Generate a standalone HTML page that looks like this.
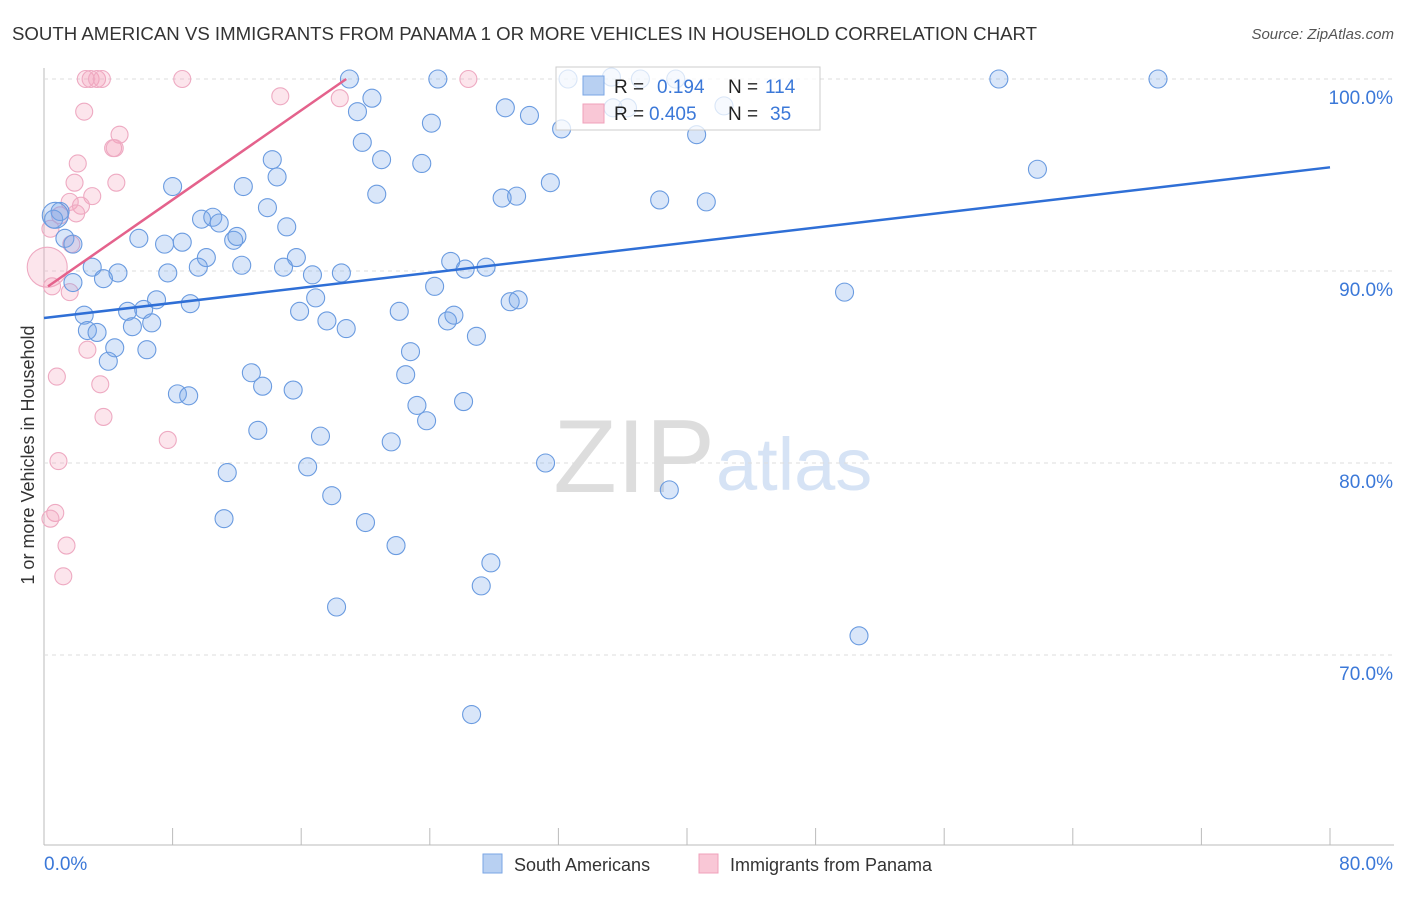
<!DOCTYPE html>
<html><head><meta charset="utf-8"><style>
body{margin:0;background:#fff;font-family:"Liberation Sans",sans-serif;}
svg text{font-family:"Liberation Sans",sans-serif;}
</style></head><body>
<svg id="chart" width="1406" height="892" viewBox="0 0 1406 892">
<text x="12" y="40" font-size="18.5" fill="#333" textLength="1025" lengthAdjust="spacingAndGlyphs">SOUTH AMERICAN VS IMMIGRANTS FROM PANAMA 1 OR MORE VEHICLES IN HOUSEHOLD CORRELATION CHART</text>
<text x="1394" y="39" font-size="15" fill="#555" text-anchor="end" font-style="italic">Source: ZipAtlas.com</text>
<text x="715" y="492" font-size="104" fill="#ddd" text-anchor="end" font-family="Liberation Serif">ZIP</text>
<text x="716" y="490" font-size="74" fill="#d6e3f5">atlas</text>
<text transform="translate(34,455) rotate(-90)" font-size="18" fill="#333" text-anchor="middle">1 or more Vehicles in Household</text>
<g id="grid"></g><g id="pts"></g><g id="lines"></g>
<g>
<rect x="556" y="67" width="264" height="63" fill="rgba(255,255,255,0.75)" stroke="#ccc"/>
<rect x="583" y="76" width="21" height="19" fill="#b8d0f2" stroke="#7aa6e4"/>
<rect x="583" y="104" width="21" height="19" fill="#f9c7d6" stroke="#f0a0bb"/>
<text x="614" y="93" font-size="19" fill="#222">R =</text><text x="657" y="93" font-size="19" fill="#3b78d8">0.194</text>
<text x="728" y="93" font-size="19" fill="#222">N =</text><text x="765" y="93" font-size="19" fill="#3b78d8">114</text>
<text x="614" y="120" font-size="19" fill="#222">R =</text><text x="649" y="120" font-size="19" fill="#3b78d8">0.405</text>
<text x="728" y="120" font-size="19" fill="#222">N =</text><text x="770" y="120" font-size="19" fill="#3b78d8">35</text>
</g>
<g>
<rect x="483" y="854" width="19" height="19" fill="#b8d0f2" stroke="#7aa6e4"/>
<text x="514" y="871" font-size="18" fill="#333">South Americans</text>
<rect x="699" y="854" width="19" height="19" fill="#f9c7d6" stroke="#f0a0bb"/>
<text x="730" y="871" font-size="18" fill="#333">Immigrants from Panama</text>
</g>
</svg>
<script>
const yTicks=[100,90,80,70];
const xTickLabels=["0.0%","80.0%"];
const blueX=[19.0,24.5,32.6,59.4,69.3,35.3,37.1,39.3,35.4,36.3,42.3,20.4,19.5,28.7,30.2,24.1,32.2,40.6,19.8,14.2,21.0,23.5,14.5,8.0,12.4,20.7,31.5,61.8,28.5,29.4,38.3,41.2,13.9,9.8,10.5,10.9,15.1,1.0,0.6,1.3,1.8,5.9,7.5,8.6,11.8,12.0,10.1,15.7,25.3,3.0,4.6,7.7,9.6,12.3,14.9,16.7,18.5,26.2,27.5,1.8,3.7,24.3,16.9,7.0,9.1,29.0,29.5,49.8,2.5,5.2,6.2,15.9,22.1,17.6,18.8,25.1,25.5,6.7,5.5,2.7,3.3,4.4,6.4,26.9,22.8,4.0,12.9,22.5,13.6,15.5,8.3,9.0,23.2,26.1,23.8,13.3,17.2,21.6,11.4,16.4,31.2,38.9,17.9,11.2,20.0,21.9,27.8,27.2,18.2,50.7,26.6,0.7];
const blueY=[100,100,100,100,100,100.1,100,100,98.5,98.5,98.6,99.0,98.3,98.5,98.1,97.7,97.4,97.1,96.7,95.8,95.8,95.6,94.9,94.4,94.4,94.0,94.6,95.3,93.8,93.9,93.7,93.6,93.3,92.7,92.8,92.5,92.3,93.1,92.7,91.7,91.4,91.7,91.4,91.5,91.6,91.8,90.7,90.7,90.5,90.2,89.9,89.9,90.2,90.3,90.2,89.8,89.9,90.1,90.2,89.4,89.6,89.2,88.6,88.5,88.3,88.4,88.5,88.9,87.7,87.9,88.0,87.9,87.9,87.4,87.0,87.4,87.7,87.3,87.1,86.9,86.8,86.0,85.9,86.6,85.8,85.3,84.7,84.6,84.0,83.8,83.6,83.5,83.0,83.2,82.2,81.7,81.4,81.1,79.5,79.8,80.0,78.6,78.3,77.1,76.9,75.7,74.8,73.6,72.5,71.0,66.9,92.9];
const blueBigIndex=[111];
const pinkX=[2.6,2.9,3.3,3.6,8.6,26.4,14.7,18.4,2.5,4.7,4.3,4.4,2.1,1.9,4.5,3.0,1.6,2.3,2.0,1.0,0.4,1.7,0.2,0.5,1.6,2.7,0.8,3.5,3.7,7.7,0.9,0.7,0.4,1.4,1.2];
const pinkY=[100,100,100,100,100,100,99.1,99.0,98.3,97.1,96.4,96.4,95.6,94.6,94.6,93.9,93.6,93.4,93.0,92.9,92.2,91.4,90.2,89.2,88.9,85.9,84.5,84.1,82.4,81.2,80.1,77.4,77.1,75.7,74.1];
const pinkBigIndex=[22];
const blueTrend=[87.55,95.4];
const pinkTrend=[[0.25,89.2],[18.8,100]];
const X=v=>44+v*(1286/80), Y=v=>79+(100-v)*19.2;
const NS="http://www.w3.org/2000/svg";
function mk(t,a,p){const e=document.createElementNS(NS,t);for(const k in a)e.setAttribute(k,a[k]);p.appendChild(e);return e;}
const grid=document.getElementById('grid');
mk('line',{x1:44,y1:68,x2:44,y2:845,stroke:'#bbb'},grid);
mk('line',{x1:44,y1:845,x2:1394,y2:845,stroke:'#bbb'},grid);
yTicks.forEach(t=>{
 const l=mk('line',{x1:44,y1:Y(t),x2:1394,y2:Y(t),stroke:'#ddd','stroke-dasharray':'4,4'},grid);
 
 
 const tx=mk('text',{x:1393,y:Y(t)+25,'font-size':19,fill:'#3b78d8','text-anchor':'end'},grid);tx.textContent=t.toFixed(1)+'%';
 
 
});
for(let i=0;i<=10;i++){const l=mk('line',{x1:X(i*8),y1:828,x2:X(i*8),y2:845,stroke:'#bbb'},grid);
 
 }
xTickLabels.forEach((s,i)=>{const t=mk('text',{x:i?1393:44,y:870,'font-size':19,fill:'#3b78d8','text-anchor':i?'end':'start'},grid);t.textContent=s;
 
 });
const pts=document.getElementById('pts');
pinkX.forEach((x,i)=>{const c=mk('circle',{cx:X(x),cy:Y(pinkY[i]),r:pinkBigIndex.includes(i)?20:8.5,fill:'rgba(244,160,188,0.28)',stroke:'#eeaac2','stroke-width':1.1},pts);
 
 });
blueX.forEach((x,i)=>{const c=mk('circle',{cx:X(x),cy:Y(blueY[i]),r:blueBigIndex.includes(i)?13:9,fill:'rgba(120,165,232,0.28)',stroke:'#6a9be0','stroke-width':1.1},pts);
 
 });
const ln=document.getElementById('lines');
const b=mk('line',{x1:X(0),y1:Y(blueTrend[0]),x2:X(80),y2:Y(blueTrend[1]),stroke:'#2f6fd6','stroke-width':2.5},ln);


const p=mk('line',{x1:X(pinkTrend[0][0]),y1:Y(pinkTrend[0][1]),x2:X(pinkTrend[1][0]),y2:Y(pinkTrend[1][1]),stroke:'#e4628c','stroke-width':2.5},ln);


</script>
</body></html>
